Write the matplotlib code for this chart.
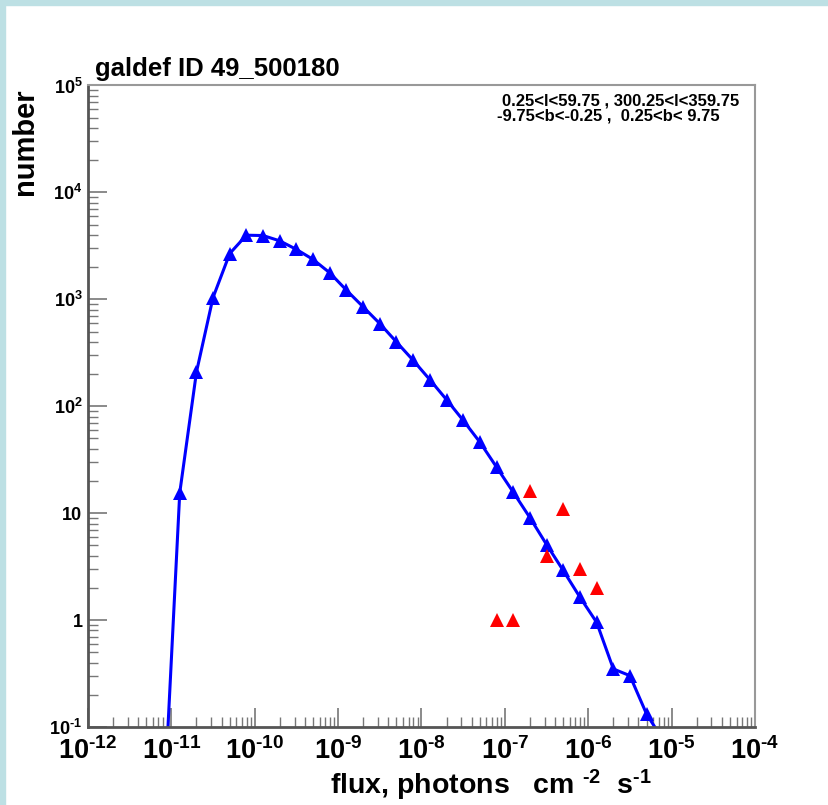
import matplotlib
matplotlib.use("Agg")
import matplotlib.pyplot as plt
from matplotlib.ticker import LogLocator, FixedLocator, FixedFormatter, NullFormatter
from matplotlib.patches import Rectangle

plt.rcParams['font.family'] = ['Liberation Sans', 'DejaVu Sans']
plt.rcParams['font.weight'] = 'bold'
plt.rcParams['mathtext.fontset'] = 'custom'
plt.rcParams['mathtext.rm'] = 'Liberation Sans:bold'
plt.rcParams['mathtext.it'] = 'Liberation Sans:bold'
plt.rcParams['mathtext.bf'] = 'Liberation Sans:bold'

# модельная кривая (синие треугольники)
flux_model = [7.94e-12, 1.26e-11, 2.00e-11, 3.16e-11, 5.01e-11, 7.94e-11,
              1.26e-10, 2.00e-10, 3.16e-10, 5.01e-10, 7.94e-10,
              1.26e-9, 2.00e-9, 3.16e-9, 5.01e-9, 7.94e-9,
              1.26e-8, 2.00e-8, 3.16e-8, 5.01e-8, 7.94e-8,
              1.26e-7, 2.00e-7, 3.16e-7, 5.01e-7, 7.94e-7,
              1.26e-6, 2.00e-6, 3.16e-6, 5.01e-6, 7.94e-6]
n_model = [0.012, 15.5, 209, 1040, 2680, 3980,
           3950, 3520, 2930, 2360, 1770,
           1216, 849, 593, 399, 269,
           177, 115, 73.8, 46.2, 27.0,
           15.7, 9.06, 5.09, 2.91, 1.64,
           0.953, 0.349, 0.302, 0.132, 0.075]

# наблюдаемые источники (красные треугольники)
flux_obs = [7.94e-8, 1.26e-7, 2.00e-7, 3.16e-7, 5.01e-7, 7.94e-7, 1.26e-6]
n_obs = [1, 1, 16, 4, 11, 3, 2]

x_ticks = [1e-12, 1e-11, 1e-10, 1e-9, 1e-8, 1e-7, 1e-6, 1e-5, 1e-4]
x_labels = [r'$10^{\text{-12}}$', r'$10^{\text{-11}}$', r'$10^{\text{-10}}$',
            r'$10^{\text{-9}}$', r'$10^{\text{-8}}$', r'$10^{\text{-7}}$',
            r'$10^{\text{-6}}$', r'$10^{\text{-5}}$', r'$10^{\text{-4}}$']
y_ticks = [1e-1, 1, 10, 1e2, 1e3, 1e4, 1e5]
y_labels = [r'$10^{\text{-1}}$', '1', '10', '$10^{2}$', '$10^{3}$', '$10^{4}$', '$10^{5}$']

W, H = 829, 805
fig = plt.figure(figsize=(W / 100, H / 100), dpi=100)
fig.patch.set_facecolor('white')
# голубая рамка слева и сверху
fig.patches.append(Rectangle((0, 0), 5 / W, 1, transform=fig.transFigure,
                             color='#bde0e4', zorder=0))
fig.patches.append(Rectangle((0, 1 - 5 / H), 1, 5 / H, transform=fig.transFigure,
                             color='#bde0e4', zorder=0))

ax = fig.add_axes([88 / W, 1 - 727 / H, (755 - 88) / W, (727 - 85.5) / H])
ax.set_xscale('log')
ax.set_yscale('log')
ax.set_xlim(1e-12, 1e-4)
ax.set_ylim(1e-1, 1e5)

ax.plot(flux_model, n_model, color='#0000ff', linewidth=2.2, marker='^',
        markersize=9.5, markeredgewidth=0)
ax.plot(flux_obs, n_obs, linestyle='none', color='#ff0000', marker='^',
        markersize=9.5, markeredgewidth=0)

ax.xaxis.set_major_locator(FixedLocator(x_ticks))
ax.xaxis.set_major_formatter(FixedFormatter(x_labels))
ax.xaxis.set_minor_locator(LogLocator(base=10, subs=range(2, 10), numticks=20))
ax.xaxis.set_minor_formatter(NullFormatter())
ax.yaxis.set_major_locator(FixedLocator(y_ticks))
ax.yaxis.set_major_formatter(FixedFormatter(y_labels))
ax.yaxis.set_minor_locator(LogLocator(base=10, subs=range(2, 10), numticks=20))
ax.yaxis.set_minor_formatter(NullFormatter())

ax.tick_params(which='both', direction='in', top=False, right=False, color='#777777')
ax.tick_params(which='major', length=14, width=1.2)
ax.tick_params(which='minor', length=7, width=1)
ax.tick_params(axis='x', which='major', labelsize=19.5, pad=7)
ax.tick_params(axis='y', which='major', labelsize=13, pad=4)
for lab in ax.get_xticklabels() + ax.get_yticklabels():
    lab.set_fontweight('bold')

for side in ['left', 'bottom']:
    ax.spines[side].set_color('#555555')
    ax.spines[side].set_linewidth(2)
for side in ['right', 'top']:
    ax.spines[side].set_color('#999999')
    ax.spines[side].set_linewidth(1.5)

fig.text(95 / W, 1 - 76 / H, 'galdef ID 49_500180', fontsize=18.5,
         fontweight='bold', ha='left', va='baseline')
fig.text(25 / W, 1 - 88 / H, 'number', fontsize=21, fontweight='bold',
         rotation=90, ha='center', va='top')
fig.text(652 / W, 1 - 794 / H, r'flux, photons   cm $^{\text{-2}}$  s$^{\text{-1}}$',
         fontsize=20.5, fontweight='bold', ha='right', va='baseline')

fig.text(502 / W, 1 - 105 / H, '0.25<l<59.75 , 300.25<l<359.75', fontsize=12,
         fontweight='bold', ha='left', va='baseline')
fig.text(497 / W, 1 - 120 / H, '-9.75<b<-0.25 ,  0.25<b< 9.75', fontsize=12,
         fontweight='bold', ha='left', va='baseline')

fig.savefig('out.png', dpi=100)
